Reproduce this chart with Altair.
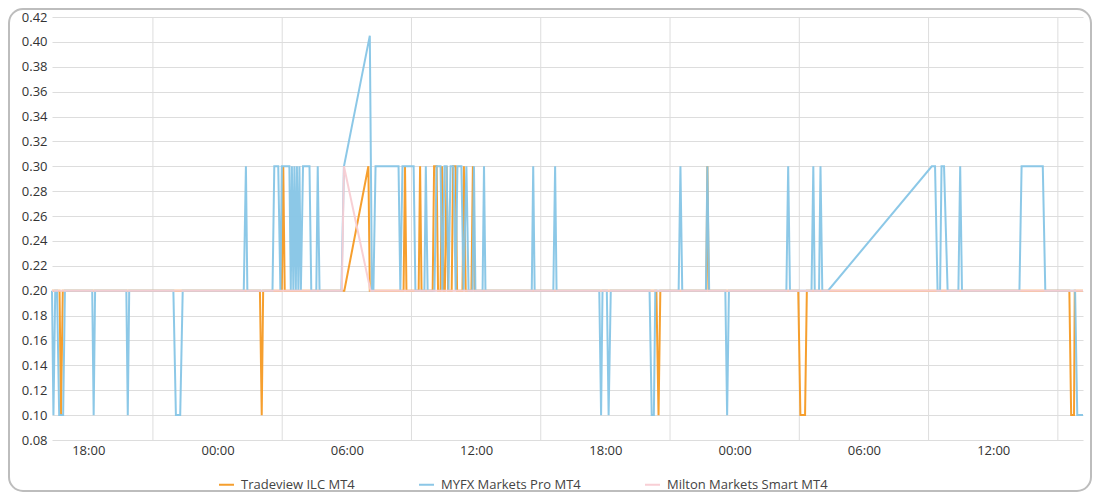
import altair as alt
import pandas as pd

BASE = pd.Timestamp("2024-01-01 00:00")
FONT = "Segoe UI, Open Sans, sans-serif"

series_names = ["Tradeview ILC MT4", "MYFX Markets Pro MT4", "Milton Markets Smart MT4"]
series_colors = ["#f59a23", "#86c5e6", "#f8cdd3"]

# (minutes since day-1 00:00, spread)
tradeview_points = [
    (979, .20), (1000, .20), (1004, .10), (1009, .20), (1558, .20), (1563, .10), (1567, .20),
    (1619, .20), (1623, .30), (1627, .20), (1793, .20), (1860, .30), (1864, .20),
    (1958, .20), (1962, .30), (1966, .20), (2000, .20), (2004, .30), (2008, .20),
    (2039, .20), (2043, .30), (2050, .30), (2054, .20), (2061, .20), (2065, .30), (2069, .20),
    (2073, .20), (2078, .30), (2082, .20), (2092, .20), (2096, .30), (2103, .30), (2107, .20),
    (2122, .20), (2126, .30), (2131, .20), (2147, .20), (2151, .30), (2156, .20),
    (2662, .20), (2668, .10), (2673, .20), (2801, .20), (2804, .30), (2808, .20),
    (3057, .20), (3063, .10), (3076, .10), (3081, .20),
    (3812, .20), (3817, .10), (3825, .10), (3827, .20), (3850, .20),
]

myfx_points = [
    (979, .20), (983, .10), (988, .20), (993, .20), (999, .10), (1010, .10), (1015, .20),
    (1091, .20), (1095, .10), (1099, .20), (1186, .20), (1190, .10), (1194, .20),
    (1317, .20), (1324, .10), (1336, .10), (1343, .20),
    (1513, .20), (1519, .30), (1523, .20),
    (1593, .20), (1598, .30), (1609, .30), (1615, .20), (1619, .30), (1640, .30), (1644, .20),
    (1647, .30), (1651, .20), (1654, .30), (1658, .20), (1661, .30), (1665, .20), (1668, .30),
    (1672, .20), (1678, .30), (1696, .30), (1701, .20), (1715, .20), (1719, .30), (1724, .20),
    (1785, .20), (1792, .30), (1864, .405), (1870, .20), (1874, .20), (1880, .30),
    (1944, .30), (1949, .20), (1955, .30), (1986, .30), (1991, .20),
    (2016, .20), (2020, .30), (2025, .20), (2044, .20), (2050, .30), (2061, .30), (2066, .20),
    (2072, .30), (2078, .30), (2083, .20), (2089, .30), (2097, .30), (2103, .20),
    (2108, .30), (2119, .30), (2125, .20), (2133, .30), (2139, .20),
    (2150, .20), (2154, .30), (2158, .20), (2178, .20), (2182, .30), (2186, .20),
    (2315, .20), (2319, .30), (2323, .20), (2375, .20), (2380, .30), (2384, .20),
    (2503, .20), (2508, .10), (2512, .20), (2524, .20), (2529, .10), (2535, .20),
    (2643, .20), (2649, .10), (2655, .10), (2659, .20),
    (2724, .20), (2729, .30), (2734, .20), (2800, .20), (2804, .30), (2809, .20),
    (2854, .20), (2859, .10), (2864, .20),
    (3024, .20), (3029, .30), (3034, .20), (3094, .20), (3099, .30), (3103, .20),
    (3115, .20), (3119, .30), (3124, .20), (3140, .20),
    (3429, .30), (3438, .30), (3445, .20), (3452, .20), (3456, .30), (3463, .30), (3473, .20),
    (3503, .20), (3508, .30), (3513, .20),
    (3673, .20), (3679, .30), (3738, .30), (3745, .20),
    (3828, .20), (3834, .10), (3850, .10),
]

milton_points = [(979, .20), (1786, .20), (1792, .30), (1866, .20), (3850, .20)]

y_ticks = [0.08, 0.10, 0.12, 0.14, 0.16, 0.18, 0.20, 0.22, 0.24, 0.26, 0.28,
           0.30, 0.32, 0.34, 0.36, 0.38, 0.40, 0.42]
label_minutes = [1080, 1440, 1800, 2160, 2520, 2880, 3240, 3600]
grid_minutes = [1260, 1620, 1980, 2340, 2700, 3060, 3420, 3780]
x_start_min, x_end_min = 979, 3850


def to_dt(m):
    return alt.DateTime(year=2024, month=1, date=1 + m // 1440,
                        hours=(m % 1440) // 60, minutes=m % 60)


frames = []
for name, pts in zip(series_names, [tradeview_points, myfx_points, milton_points]):
    frames.append(pd.DataFrame({
        "series": name,
        "t": [BASE + pd.Timedelta(minutes=m) for m, _ in pts],
        "value": [v for _, v in pts],
    }))

grid_df = pd.DataFrame({"t": [BASE + pd.Timedelta(minutes=m) for m in grid_minutes]})

x_scale = alt.Scale(domain=[to_dt(x_start_min), to_dt(x_end_min)], nice=False)
x_axis = alt.Axis(values=[to_dt(m) for m in label_minutes], format="%H:%M", grid=False,
                  ticks=False, domain=False, labelPadding=4, labelFontSize=13,
                  labelColor="#333333", labelFont=FONT, labelFlush=False, title=None)
y_scale = alt.Scale(domain=[0.08, 0.42], nice=False, zero=False)
y_axis = alt.Axis(values=y_ticks, format=".2f", grid=True, gridColor="#dddddd",
                  domain=False, ticks=False, labelPadding=5, labelFontSize=13,
                  labelColor="#333333", labelFont=FONT, title=None)
legend = alt.Legend(title=None, orient="none", legendX=166, legendY=459,
                    direction="horizontal", symbolType="stroke", symbolStrokeWidth=2,
                    symbolSize=225, labelFontSize=13, labelColor="#444444",
                    labelFont=FONT, columnPadding=60, labelOffset=6, labelLimit=400)
color = alt.Color("series:N", scale=alt.Scale(domain=series_names, range=series_colors),
                  legend=legend)

rules = alt.Chart(grid_df).mark_rule(color="#dddddd", strokeWidth=1).encode(
    x=alt.X("t:T", scale=x_scale, axis=x_axis)
)

line_layers = [
    alt.Chart(f).mark_line(strokeWidth=2, opacity=0.95).encode(
        x=alt.X("t:T", scale=x_scale, axis=x_axis),
        y=alt.Y("value:Q", scale=y_scale, axis=y_axis),
        color=color,
    )
    for f in frames
]

frame = alt.Chart(pd.DataFrame({"k": [0]})).mark_rect(
    fill="white", fillOpacity=0, stroke="#bdbdbd", strokeWidth=2, cornerRadius=14
).encode(x=alt.value(-43), x2=alt.value(1039), y=alt.value(-8), y2=alt.value(474))

chart = alt.layer(rules, *line_layers, frame).properties(
    width=1031, height=423,
    padding={"left": 44, "top": 9, "right": 9, "bottom": 52},
    autosize=alt.AutoSizeParams(type="none"),
).configure(font=FONT).configure_view(stroke=None)

chart.save("out.html", embed_options={"renderer": "svg", "actions": False})
